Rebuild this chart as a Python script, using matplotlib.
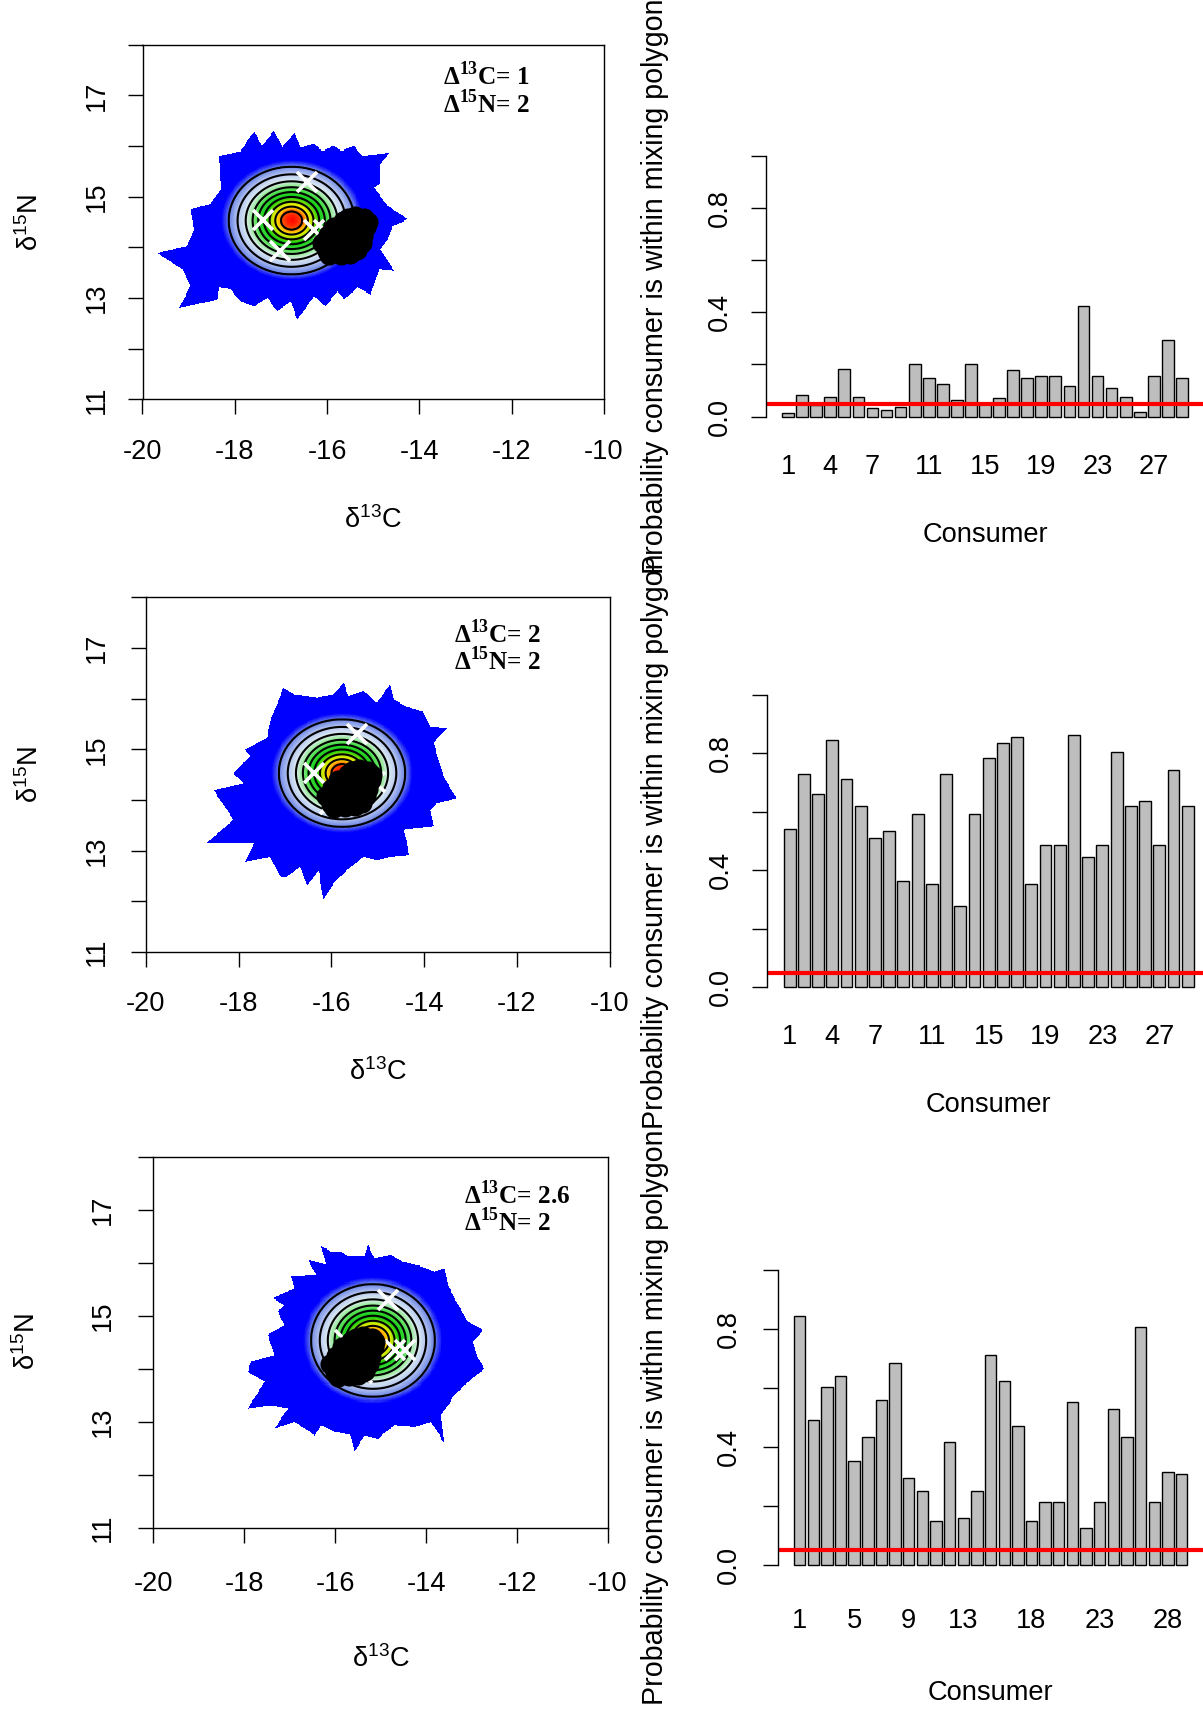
"""
Mixing polygon simulation figure: probability of the mixing region for three
trophic enrichment factors (left) and the probability that each consumer lies
inside the mixing polygon (right).
"""

import numpy as np
import matplotlib
matplotlib.use("Agg")
import matplotlib.pyplot as plt
from matplotlib.colors import LinearSegmentedColormap
from matplotlib.path import Path

plt.rcParams["font.family"] = ["Liberation Sans", "DejaVu Sans"]
plt.rcParams["font.size"] = 19.6
plt.rcParams["axes.unicode_minus"] = False
plt.rcParams["mathtext.fontset"] = "custom"
plt.rcParams["mathtext.rm"] = "Liberation Sans"
plt.rcParams["mathtext.bf"] = "Liberation Serif:bold"

W, H = 1203, 1719

# ---- data -------------------------------------------------------------
tef_c = [1, 2, 2.6]
tef_n = [2, 2, 2]
tef_label = ["1", "2", "2.6"]

# source means before enrichment
src_x = [-17.44, -18.38, -18.02, -17.29, -17.07]
src_y = [13.30, 12.54, 11.92, 12.35, 12.35]

# consumers
cons_x = [-16.12, -16.00, -15.98, -15.85, -15.82, -15.78, -15.70, -15.65, -15.60, -15.58,
          -15.55, -15.50, -15.45, -15.42, -15.38, -15.35, -15.30, -15.28, -15.25, -15.20,
          -15.15, -15.12, -15.22, -15.90, -15.72, -15.62, -15.40, -15.48, -15.95]
cons_y = [14.08, 13.93, 14.24, 14.40, 13.98, 14.15, 13.86, 14.52, 14.28, 14.05,
          14.58, 13.88, 14.40, 14.18, 14.57, 13.95, 14.30, 14.48, 14.08, 14.58,
          14.40, 14.50, 14.22, 14.10, 14.40, 13.92, 14.62, 14.12, 13.85]

# mixing region centre (before enrichment) and half widths of the 10% contour
mix_cx, mix_cy = -17.77, 12.53
mix_ax, mix_ay = 1.36, 1.06
# probability level vs relative distance from the centre
lev_r = [0.0, 0.17, 0.26, 0.35, 0.44, 0.53, 0.62, 0.73, 0.86, 1.0, 1.18, 4.0]
lev_p = [0.99, 0.9, 0.8, 0.7, 0.6, 0.5, 0.4, 0.3, 0.2, 0.1, 0.02, 0.0]

# outer edge of the simulated region, one per panel
edge1 = [(-18.357, 15.792), (-17.887, 15.890), (-17.598, 16.265), (-17.418, 15.989),
         (-17.165, 16.285), (-16.984, 15.956), (-16.717, 16.252), (-16.587, 15.956),
         (-16.298, 16.022), (-16.118, 15.890), (-15.865, 15.989), (-15.720, 15.890),
         (-15.431, 15.989), (-15.251, 15.792), (-14.998, 15.825), (-14.673, 15.858),
         (-14.890, 15.595), (-14.854, 15.266), (-14.998, 15.167), (-14.709, 14.806),
         (-14.276, 14.543), (-14.601, 14.411), (-14.709, 14.148), (-14.854, 13.951),
         (-14.565, 13.524), (-14.890, 13.556), (-14.998, 13.261), (-15.070, 13.063),
         (-15.359, 13.195), (-15.648, 12.965), (-15.793, 13.129), (-16.045, 12.833),
         (-16.298, 13.030), (-16.659, 12.570), (-16.804, 12.932), (-17.093, 12.735),
         (-17.309, 12.998), (-17.598, 12.833), (-17.887, 12.932), (-18.104, 13.162),
         (-18.357, 13.195), (-18.393, 12.965), (-19.223, 12.800), (-18.971, 13.228),
         (-19.151, 13.556), (-19.693, 13.880), (-19.043, 14.020), (-18.898, 14.345),
         (-18.971, 14.740), (-18.537, 14.839), (-18.321, 15.134)]
edge2 = [(-17.036, 16.205), (-16.820, 16.073), (-16.317, 16.008), (-15.958, 16.073),
         (-15.742, 16.304), (-15.635, 16.040), (-15.311, 16.139), (-15.024, 15.909),
         (-14.737, 16.271), (-14.665, 15.975), (-14.377, 15.843), (-14.018, 15.744),
         (-13.875, 15.448), (-13.515, 15.415), (-13.803, 15.119), (-13.695, 14.790),
         (-13.587, 14.461), (-13.300, 14.033), (-13.731, 13.935), (-13.875, 13.803),
         (-13.803, 13.474), (-14.449, 13.408), (-14.377, 13.145), (-14.342, 12.915),
         (-14.737, 12.882), (-15.024, 12.816), (-15.311, 12.882), (-15.671, 12.618),
         (-15.958, 12.355), (-16.174, 12.026), (-16.281, 12.618), (-16.533, 12.289),
         (-16.676, 12.684), (-16.964, 12.487), (-17.107, 12.487), (-17.323, 12.882),
         (-17.862, 12.783), (-17.682, 13.145), (-18.688, 13.145), (-18.113, 13.606),
         (-18.544, 14.198), (-17.898, 14.329), (-18.113, 14.527), (-17.754, 14.856),
         (-17.862, 14.987), (-17.395, 15.218), (-17.287, 15.646)]
edge3 = [(-16.302, 16.299), (-16.082, 16.205), (-15.863, 16.205), (-15.716, 16.110),
         (-15.350, 16.110), (-15.277, 16.330), (-15.130, 16.079), (-14.764, 16.142),
         (-14.544, 16.016), (-14.104, 15.922), (-13.811, 15.827), (-13.592, 15.890),
         (-13.518, 15.576), (-13.335, 15.261), (-13.079, 14.884), (-12.749, 14.727),
         (-12.969, 14.506), (-12.859, 14.192), (-12.713, 14.003), (-13.152, 13.689),
         (-13.372, 13.500), (-13.665, 13.123), (-13.592, 12.588), (-13.885, 12.997),
         (-14.251, 12.903), (-14.691, 12.934), (-15.057, 12.683), (-15.350, 12.745),
         (-15.570, 12.431), (-15.643, 12.745), (-16.009, 12.808), (-16.302, 12.934),
         (-16.449, 12.745), (-16.888, 12.997), (-17.328, 12.871), (-17.035, 13.249),
         (-17.401, 13.311), (-17.914, 13.249), (-17.548, 13.752), (-17.914, 13.940),
         (-17.841, 14.129), (-17.328, 14.255), (-17.474, 14.632), (-17.108, 14.821),
         (-17.255, 15.072), (-17.108, 15.198), (-17.365, 15.324), (-16.888, 15.513),
         (-16.962, 15.733), (-16.412, 15.764), (-16.595, 16.047), (-16.192, 15.953)]
edges = [edge1, edge2, edge3]

# probability that each consumer is within the mixing polygon
prob1 = [0.013, 0.083, 0.043, 0.077, 0.183, 0.077, 0.032, 0.024, 0.038, 0.202,
         0.150, 0.124, 0.064, 0.202, 0.048, 0.072, 0.177, 0.150, 0.157, 0.157,
         0.118, 0.426, 0.157, 0.111, 0.077, 0.018, 0.157, 0.294, 0.150]
prob2 = [0.540, 0.729, 0.661, 0.846, 0.713, 0.620, 0.511, 0.533, 0.365, 0.591,
         0.353, 0.729, 0.278, 0.591, 0.783, 0.836, 0.857, 0.353, 0.488, 0.488,
         0.864, 0.447, 0.488, 0.806, 0.620, 0.638, 0.488, 0.743, 0.620]
prob3 = [0.845, 0.492, 0.605, 0.643, 0.354, 0.436, 0.560, 0.687, 0.296, 0.252,
         0.150, 0.416, 0.158, 0.252, 0.713, 0.625, 0.473, 0.150, 0.214, 0.214,
         0.554, 0.127, 0.214, 0.530, 0.436, 0.807, 0.214, 0.317, 0.309]
probs = [prob1, prob2, prob3]
shown1 = [1, 4, 7, 11, 15, 19, 23, 27]
shown3 = [1, 5, 9, 13, 18, 23, 28]
shown = [shown1, shown1, shown3]
threshold = 0.05

# ---- layout (pixels of the 1203 x 1719 image) -------------------------
# left, right, top, bottom of each plotting region
iso_box = [(142.5, 604.0, 44.7, 399.5), (145.8, 609.7, 597.4, 951.9), (153.4, 608.0, 1156.5, 1527.6)]
bar_box = [(766.0, 1204.0, 145.4, 427.1), (767.4, 1210.0, 683.1, 999.0), (778.2, 1203.0, 1258.6, 1576.8)]
iso_xlab_y = [520, 1072, 1659]
iso_ylab_x = [29.6, 29.6, 27.4]
iso_pad_x = [17.5, 17.0, 20.5]
iso_pad_y = [13.0, 15.0, 16.5]
bar_pad_x = [19.7, 18.0, 22.3]
bar_pad_y = [13.0, 13.6, 15.4]
bar_xlab_y = [535, 1105, 1693]
bar_ylab_x = 655
txt_pos = [(-13.48, 17.21, 16.66), (-13.36, 17.11, 16.57), (-13.16, 17.11, 16.59)]

prob_cmap = LinearSegmentedColormap.from_list("mix", [
    (0.00, "#0000ff"), (0.045, "#0000ff"), (0.10, "#7088e6"), (0.20, "#b8c8f0"),
    (0.30, "#dcecf0"), (0.38, "#98ea98"), (0.48, "#40dc40"), (0.62, "#10cc10"),
    (0.72, "#a8e400"), (0.80, "#ffee00"), (0.86, "#ffb000"), (0.90, "#ff6000"),
    (0.95, "#ff2000"), (1.00, "#ff0000")])


def rect(box):
    l, r, t, b = box
    return [l / W, 1 - b / H, (r - l) / W, (b - t) / H]


def plot_region(fig, k):
    ax = fig.add_axes(rect(iso_box[k]))
    cx = mix_cx + tef_c[k]
    cy = mix_cy + tef_n[k]
    gx = np.arange(-20, -10, 0.02) + 0.01
    gy = np.arange(11, 18, 0.02) + 0.01
    X, Y = np.meshgrid(gx, gy)
    r = np.sqrt(((X - cx) / mix_ax) ** 2 + ((Y - cy) / mix_ay) ** 2)
    P = np.interp(r, lev_r, lev_p)
    inside = Path(edges[k]).contains_points(np.column_stack([X.ravel(), Y.ravel()]))
    img = np.ma.masked_where(~inside.reshape(X.shape), P)
    ax.imshow(img, extent=(-20, -10, 11, 18), origin="lower", cmap=prob_cmap,
              vmin=0, vmax=1, aspect="auto", interpolation="nearest", zorder=1)
    ax.contour(X, Y, P, levels=np.arange(0.1, 0.95, 0.1), colors="black",
               linewidths=1.5, zorder=2)

    sx = np.array(src_x) + tef_c[k]
    sy = np.array(src_y) + tef_n[k]
    ax.plot(sx, sy, "x", color="white", ms=14.5, mew=2.6, zorder=3)
    ax.plot(cons_x, cons_y, "o", color="black", ms=14.5, mew=0, zorder=4)

    ax.set_xlim(-20, -10)
    ax.set_ylim(11, 18)
    ax.set_xticks(range(-20, -9, 2))
    ax.set_yticks(range(11, 19))
    ax.set_yticklabels([str(v) if v % 2 else "" for v in range(11, 19)])
    ax.tick_params(axis="both", direction="out", length=10.8, width=1.0)
    ax.tick_params(axis="x", pad=iso_pad_x[k])
    ax.tick_params(axis="y", pad=iso_pad_y[k])
    for lab in ax.get_yticklabels():
        lab.set_rotation(90)
        lab.set_va("center")
    for sp in ax.spines.values():
        sp.set_linewidth(1.0)

    tx, ty1, ty2 = txt_pos[k]
    ax.text(tx, ty1, "Δ$^{\\mathbf{13}}$C= " + tef_label[k], family="Liberation Serif",
            weight="bold", fontsize=18.2, va="baseline", ha="left", zorder=5)
    ax.text(tx, ty2, "Δ$^{\\mathbf{15}}$N= " + str(tef_n[k]), family="Liberation Serif",
            weight="bold", fontsize=18.2, va="baseline", ha="left", zorder=5)

    l, rr, t, b = iso_box[k]
    fig.text((l + rr) / 2 / W, 1 - iso_xlab_y[k] / H, "δ$^{\\mathrm{13}}$C",
             ha="center", va="center")
    fig.text(iso_ylab_x[k] / W, 1 - (t + b) / 2 / H, "δ$^{\\mathrm{15}}$N",
             ha="center", va="center", rotation=90)


def plot_probs(fig, k):
    ax = fig.add_axes(rect(bar_box[k]))
    vals = probs[k]
    n = len(vals)
    xs = 0.7 + 1.2 * np.arange(n)
    ax.bar(xs, vals, width=1.0, color="#bebebe", edgecolor="black", linewidth=1.0)
    ax.axhline(threshold, color="red", linewidth=3.0)
    span = 1.2 * n - 0.2
    ax.set_xlim(0.2 - 0.04 * span, 0.2 + span + 0.04 * span)
    ax.set_ylim(-0.04, 1.04)
    for side in ["top", "right", "bottom"]:
        ax.spines[side].set_visible(False)
    ax.spines["left"].set_bounds(0, 1)
    ax.spines["left"].set_linewidth(1.0)
    ax.set_yticks([0, 0.2, 0.4, 0.6, 0.8, 1.0])
    ax.set_yticklabels(["0.0", "", "0.4", "", "0.8", ""])
    ax.tick_params(axis="y", direction="out", length=10.8, width=1.0, pad=bar_pad_y[k])
    for lab in ax.get_yticklabels():
        lab.set_rotation(90)
        lab.set_va("center")
    ax.set_xticks([xs[i - 1] for i in shown[k]])
    ax.set_xticklabels([str(i) for i in shown[k]])
    ax.tick_params(axis="x", length=0, pad=bar_pad_x[k])

    l, r, t, b = bar_box[k]
    fig.text((l + r) / 2 / W, 1 - bar_xlab_y[k] / H, "Consumer", ha="center", va="center")
    fig.text(bar_ylab_x / W, 1 - (t + b) / 2 / H, "Probability consumer is within mixing polygon",
             ha="center", va="center", rotation=90, fontsize=20.6)


fig = plt.figure(figsize=(W / 100, H / 100), dpi=100)
for k in range(3):
    plot_region(fig, k)
    plot_probs(fig, k)
fig.savefig("out.png", dpi=100)
